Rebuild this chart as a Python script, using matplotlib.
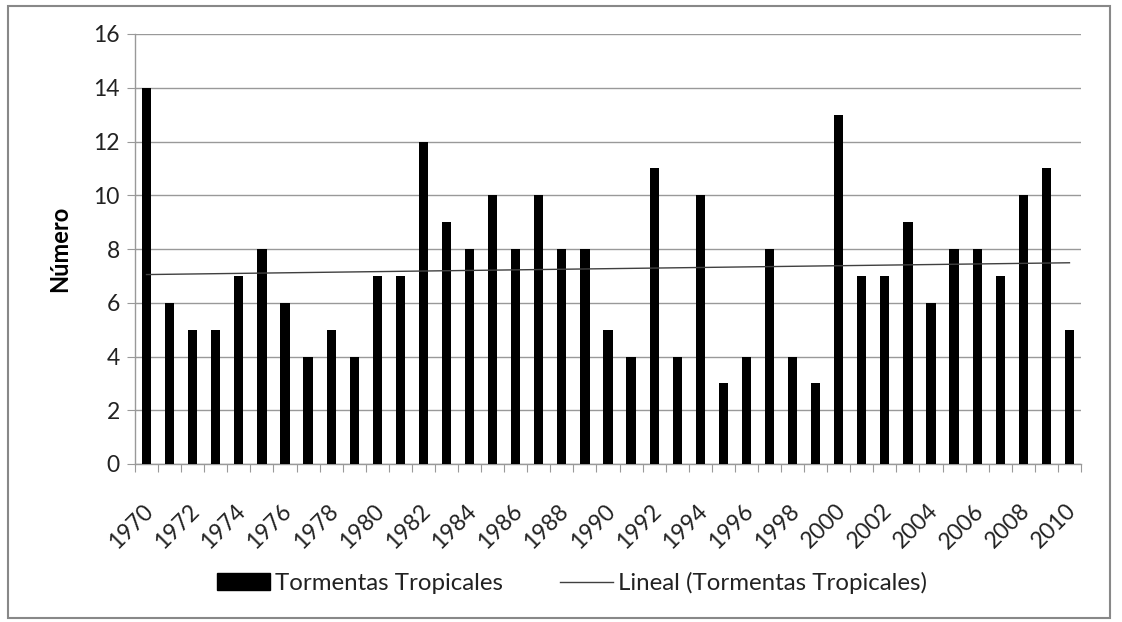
import numpy as np
import matplotlib
matplotlib.use("Agg")
import matplotlib.pyplot as plt
import matplotlib.transforms as mtransforms
from matplotlib.patches import Rectangle
from matplotlib.lines import Line2D

years = list(range(1970, 2011))
storms = [14, 6, 5, 5, 7, 8, 6, 4, 5, 4, 7, 7, 12, 9, 8, 10, 8, 10, 8, 8,
          5, 4, 11, 4, 10, 3, 4, 8, 4, 3, 13, 7, 7, 9, 6, 8, 8, 7, 10, 11, 5]
yticks = [0, 2, 4, 6, 8, 10, 12, 14, 16]

plt.rcParams['font.family'] = ['Lato', 'DejaVu Sans']

fig = plt.figure(figsize=(11.22, 6.22), dpi=100)
ax = fig.add_axes([135/1122, 1-464/622, (1081-135)/1122, (464-34)/622])

x = np.arange(len(years))
ax.bar(x, storms, width=0.4, color='black', zorder=3)

coef = np.polyfit(x, storms, 1)
ax.plot(x, np.polyval(coef, x), color='#404040', lw=1.0, zorder=4)

ax.set_xlim(-0.5, len(years) - 0.5)
ax.set_ylim(0, 16)
ax.set_yticks(yticks)
ax.set_yticklabels([str(v) for v in yticks], fontsize=16.5, color='#222222')
ax.yaxis.grid(True, color='#999999', lw=1.0, zorder=0)
ax.tick_params(axis='y', length=6, color='#999999', pad=5, direction='out')

ax.set_xticks(np.arange(-0.5, len(years), 1.0), minor=False)
ax.set_xticklabels([])
ax.set_xticks(x[::2], minor=True)
ax.set_xticklabels([str(y) for y in years[::2]], minor=True, rotation=45,
                   ha='right', va='top', rotation_mode='anchor', fontsize=16.5, color='#222222')
ax.tick_params(axis='x', which='major', length=6, color='#999999', direction='out')
ax.tick_params(axis='x', which='minor', length=0, pad=26)
offset = mtransforms.ScaledTranslation(-4/100, 0, fig.dpi_scale_trans)
for lbl in ax.get_xticklabels(minor=True):
    lbl.set_transform(lbl.get_transform() + offset)

for s in ['top', 'right']:
    ax.spines[s].set_visible(False)
for s in ['left', 'bottom']:
    ax.spines[s].set_color('#999999')
    ax.spines[s].set_linewidth(1.0)

ax.set_ylabel('Número', fontsize=17, fontweight='bold', labelpad=16)

handles = [Rectangle((0, 0), 1, 1, color='black'),
           Line2D([0], [0], color='#404040', lw=1.0)]
fig.legend(handles, ['Tormentas Tropicales', 'Lineal (Tormentas Tropicales)'],
           loc='center', bbox_to_anchor=(572/1122, 1-583/622), ncol=2, frameon=False,
           fontsize=17.3, handlelength=2.2, handletextpad=0.2, columnspacing=2.4,
           labelcolor='#222222')

fig.patches.append(Rectangle((8/1122, 4/622), (1110-8)/1122, (616-4)/622,
                             transform=fig.transFigure, fill=False,
                             edgecolor='#888888', lw=1.5))

fig.savefig('out.png', dpi=100, facecolor='white')
